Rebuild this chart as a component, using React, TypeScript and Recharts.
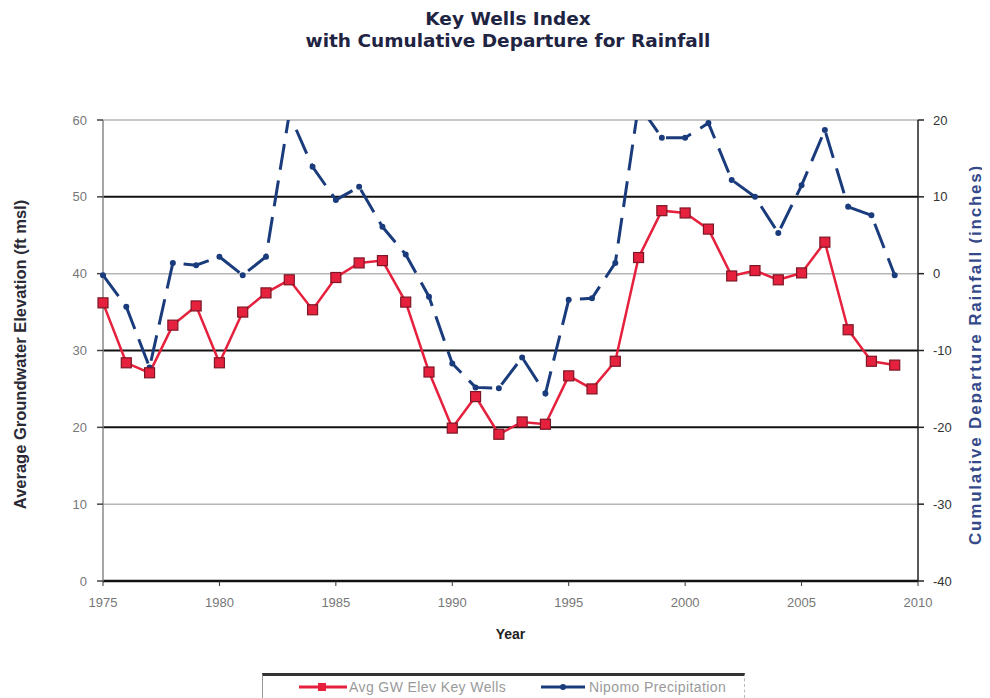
import { LineChart, Line, XAxis, YAxis, ReferenceLine, Label } from 'recharts'

const years = [
  1975, 1976, 1977, 1978, 1979, 1980, 1981, 1982, 1983, 1984, 1985, 1986,
  1987, 1988, 1989, 1990, 1991, 1992, 1993, 1994, 1995, 1996, 1997, 1998,
  1999, 2000, 2001, 2002, 2003, 2004, 2005, 2006, 2007, 2008, 2009,
]

// Avg GW Elev Key Wells (ft msl), left axis
const wellElev = [
  36.2, 28.4, 27.1, 33.3, 35.8, 28.4, 35.0, 37.5, 39.2, 35.3, 39.5, 41.4,
  41.7, 36.3, 27.2, 19.9, 24.0, 19.1, 20.7, 20.4, 26.7, 25.0, 28.6, 42.1,
  48.2, 47.9, 45.8, 39.7, 40.4, 39.2, 40.1, 44.1, 32.7, 28.6, 28.1,
]

// Nipomo Precipitation cumulative departure (inches), right axis
const rainDeparture = [
  -0.2, -4.3, -12.2, 1.4, 1.1, 2.2, -0.2, 2.2, 20.8, 13.9, 9.6, 11.3,
  6.1, 2.5, -3.0, -11.7, -14.8, -14.9, -10.9, -15.6, -3.4, -3.2, 1.4, 22.0,
  17.7, 17.7, 19.6, 12.2, 10.0, 5.3, 11.5, 18.7, 8.7, 7.6, -0.2,
]

const xTicks = [1975, 1980, 1985, 1990, 1995, 2000, 2005, 2010]
const leftTicks = [0, 10, 20, 30, 40, 50, 60]
const rightTicks = [-40, -30, -20, -10, 0, 10, 20]
const darkGrid = [20, 30, 50]
const lightGrid = [10, 40, 60]

const data = years.map((year, i) => ({
  year,
  elev: wellElev[i],
  rain: rainDeparture[i],
}))

const RED = '#e5213d'
const BLUE = '#1b3c7c'
const FONT = 'Liberation Sans, Arial, sans-serif'
const tickStyle = { fontFamily: FONT, fontSize: 13, fill: '#777' }

const SquareDot = (props: any) => {
  const { cx, cy, index } = props
  if (cx == null || cy == null) return null
  return (
    <rect
      key={`sq-${index}`}
      x={cx - 5}
      y={cy - 5}
      width={10}
      height={10}
      fill={RED}
      stroke="#7d1626"
      strokeWidth={1.2}
    />
  )
}

const App = () => {
  return (
    <div style={{ position: 'relative', width: 982, height: 690, background: '#fff' }}>
      <div
        style={{
          position: 'absolute',
          top: 0,
          left: 0,
          width: 1000,
          textAlign: 'center',
          fontFamily: 'DejaVu Sans, sans-serif',
          fontWeight: 'bold',
          fontSize: 18.5,
          lineHeight: '22px',
          letterSpacing: 0,
          color: '#1e2442',
        }}
      >
        Key Wells Index
        <br />
        with Cumulative Departure for Rainfall
      </div>
      <LineChart
        width={982}
        height={690}
        data={data}
        margin={{ top: 112, right: 2, left: 5, bottom: 57 }}
      >
        {lightGrid.map((v) => (
          <ReferenceLine key={`l${v}`} yAxisId="left" y={v} stroke="#b5b5b5" strokeWidth={1.5} />
        ))}
        {darkGrid.map((v) => (
          <ReferenceLine key={`d${v}`} yAxisId="left" y={v} stroke="#111" strokeWidth={2} />
        ))}
        <XAxis
          dataKey="year"
          type="number"
          domain={[1975, 2010]}
          ticks={xTicks}
          height={60}
          tick={tickStyle}
          tickSize={5}
          tickMargin={12}
          axisLine={{ stroke: '#111', strokeWidth: 2.5 }}
          tickLine={{ stroke: '#333' }}
        >
          <Label
            value="Year"
            position="insideBottom"
            offset={2}
            style={{ fontFamily: FONT, fontSize: 14, fontWeight: 'bold', fill: '#222' }}
          />
        </XAxis>
        <YAxis
          yAxisId="left"
          domain={[0, 60]}
          ticks={leftTicks}
          width={90}
          tick={tickStyle}
          tickSize={6}
          tickMargin={10}
          axisLine={{ stroke: '#888', strokeWidth: 1.5 }}
          tickLine={{ stroke: '#444', strokeWidth: 1.5 }}
        >
          <Label
            value="Average Groundwater Elevation (ft msl)"
            angle={-90}
            position="center"
            dx={-38}
            dy={4}
            style={{ fontFamily: FONT, fontSize: 16.5, fontWeight: 'bold', fill: '#2a2a35', textAnchor: 'middle' }}
          />
        </YAxis>
        <YAxis
          yAxisId="right"
          orientation="right"
          domain={[-40, 20]}
          ticks={rightTicks}
          allowDataOverflow
          width={70}
          tick={{ ...tickStyle, fill: '#333' }}
          tickSize={6}
          tickMargin={9}
          axisLine={{ stroke: '#222', strokeWidth: 1.5 }}
          tickLine={{ stroke: '#222', strokeWidth: 1.5 }}
        >
          <Label
            value="Cumulative Departure Rainfall (inches)"
            angle={-90}
            position="center"
            dx={22}
            dy={4}
            style={{ fontFamily: FONT, fontSize: 17, fontWeight: 'bold', letterSpacing: 1.8, fill: '#34498a', textAnchor: 'middle' }}
          />
        </YAxis>
        <Line
          yAxisId="right"
          type="linear"
          dataKey="rain"
          stroke={BLUE}
          strokeWidth={3}
          strokeDasharray="26 11"
          dot={{ r: 1.5, fill: BLUE, stroke: BLUE }}
          isAnimationActive={false}
        />
        <Line
          yAxisId="left"
          type="linear"
          dataKey="elev"
          stroke={RED}
          strokeWidth={2.5}
          dot={SquareDot}
          isAnimationActive={false}
        />
      </LineChart>
      <div
        style={{
          position: 'absolute',
          left: 254,
          top: 665,
          width: 483,
          height: 25,
          borderTop: '3px solid #333',
          borderLeft: '1px solid #999',
          borderRight: '1px dashed #bbb',
          boxSizing: 'border-box',
          fontFamily: FONT,
          fontSize: 14,
          letterSpacing: 0.4,
          color: '#9a9a9a',
        }}
      >
        <div style={{ position: 'absolute', left: 36, top: 3, display: 'flex', alignItems: 'center' }}>
          <svg width={48} height={12}>
            <line x1={0} y1={6} x2={48} y2={6} stroke={RED} strokeWidth={3} />
            <rect x={19} y={2} width={8} height={8} fill={RED} />
          </svg>
          <span style={{ marginLeft: 2 }}>Avg GW Elev Key Wells</span>
        </div>
        <div style={{ position: 'absolute', left: 278, top: 3, display: 'flex', alignItems: 'center' }}>
          <svg width={44} height={12}>
            <line x1={0} y1={6} x2={44} y2={6} stroke={BLUE} strokeWidth={3} />
            <circle cx={22} cy={6} r={3} fill={BLUE} />
          </svg>
          <span style={{ marginLeft: 4 }}>Nipomo Precipitation</span>
        </div>
      </div>
    </div>
  )
}

export default App
